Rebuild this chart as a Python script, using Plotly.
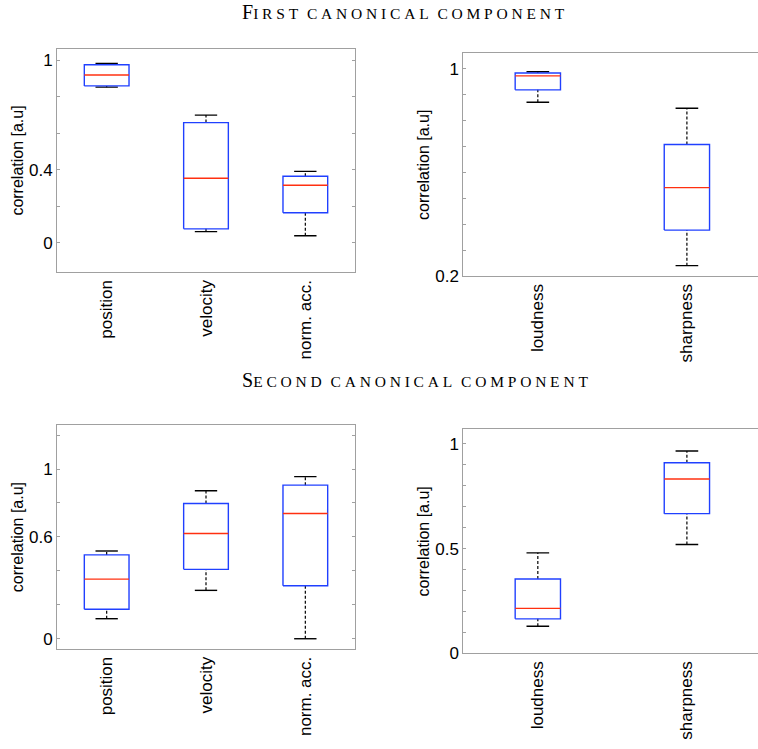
import plotly.graph_objects as go

# ---------------- data ----------------
motion_labels = ["position", "velocity", "norm. acc."]
sound_labels = ["loudness", "sharpness"]

# first canonical component
c1_motion_lo = [0.852, 0.061, 0.038]
c1_motion_q1 = [0.859, 0.076, 0.164]
c1_motion_med = [0.919, 0.353, 0.315]
c1_motion_q3 = [0.975, 0.658, 0.364]
c1_motion_hi = [0.982, 0.699, 0.391]

c1_sound_lo = [0.871, 0.241]
c1_sound_q1 = [0.919, 0.378]
c1_sound_med = [0.973, 0.542]
c1_sound_q3 = [0.984, 0.708]
c1_sound_hi = [0.989, 0.848]

# second canonical component
c2_motion_lo = [0.118, 0.285, 0.0]
c2_motion_q1 = [0.174, 0.409, 0.312]
c2_motion_med = [0.351, 0.620, 0.738]
c2_motion_q3 = [0.494, 0.797, 0.905]
c2_motion_hi = [0.517, 0.872, 0.955]

c2_sound_lo = [0.13, 0.52]
c2_sound_q1 = [0.165, 0.667]
c2_sound_med = [0.215, 0.832]
c2_sound_q3 = [0.355, 0.91]
c2_sound_hi = [0.48, 0.966]

W, H = 758, 749

fig = go.Figure()

BLUE = "#2040ff"
RED = "#ff3010"
FRAME = "#a0a0a0"


def add_boxes(xa, ya, lo, q1, med, q3, hi, halfw):
    capw = halfw / 2.0
    wx, wy, cx, cy, bx, by, mx, my = [], [], [], [], [], [], [], []
    for i in range(len(med)):
        c = i + 1
        wx += [c, c, None, c, c, None]
        wy += [q3[i], hi[i], None, lo[i], q1[i], None]
        cx += [c - capw, c + capw, None, c - capw, c + capw, None]
        cy += [hi[i], hi[i], None, lo[i], lo[i], None]
        bx += [c - halfw, c + halfw, c + halfw, c - halfw, c - halfw, None]
        by += [q1[i], q1[i], q3[i], q3[i], q1[i], None]
        mx += [c - halfw, c + halfw, None]
        my += [med[i], med[i], None]
    common = dict(xaxis=xa, yaxis=ya, mode="lines", hoverinfo="skip", showlegend=False)
    fig.add_trace(go.Scatter(x=wx, y=wy, line=dict(color="black", width=1.2, dash="3px,2px"), **common))
    fig.add_trace(go.Scatter(x=cx, y=cy, line=dict(color="black", width=1.4), **common))
    fig.add_trace(go.Scatter(x=bx, y=by, line=dict(color=BLUE, width=1.4), **common))
    fig.add_trace(go.Scatter(x=mx, y=my, line=dict(color=RED, width=1.4), **common))


add_boxes("x", "y", c1_motion_lo, c1_motion_q1, c1_motion_med, c1_motion_q3, c1_motion_hi, 0.225)
add_boxes("x2", "y2", c1_sound_lo, c1_sound_q1, c1_sound_med, c1_sound_q3, c1_sound_hi, 0.152)
add_boxes("x3", "y3", c2_motion_lo, c2_motion_q1, c2_motion_med, c2_motion_q3, c2_motion_hi, 0.225)
add_boxes("x4", "y4", c2_sound_lo, c2_sound_q1, c2_sound_med, c2_sound_q3, c2_sound_hi, 0.152)


def px_x(a, b):
    return [a / W, b / W]


def px_y(top, bottom):
    return [1 - bottom / H, 1 - top / H]


tickfont = dict(family="Liberation Sans, Arial, sans-serif", size=17, color="black")
titlefont = dict(family="Liberation Sans, Arial, sans-serif", size=16, color="black")


def xaxis_cfg(dom, rng, labels, anchor):
    return dict(domain=dom, range=rng, anchor=anchor, tickvals=list(range(1, len(labels) + 1)),
                ticktext=labels, tickangle=-90, ticks="", showline=True, linecolor=FRAME,
                linewidth=1, mirror=True, showgrid=False, zeroline=False, tickfont=tickfont)


def yaxis_cfg(dom, rng, vals, texts, anchor, mirror):
    return dict(domain=dom, range=rng, anchor=anchor, tickvals=vals, ticktext=texts,
                ticks="inside", ticklen=3, tickcolor=FRAME, showline=True, linecolor=FRAME,
                linewidth=1, mirror=mirror, showgrid=False, zeroline=False, tickfont=tickfont,
                title=dict(text="correlation [a.u]", font=titlefont, standoff=1))


y1_vals = [0, 0.2, 0.4, 0.6, 0.8, 1.0]
y1_text = ["0", "", "0.4", "", "", "1"]
y2_vals = [0.2, 0.3, 0.4, 0.5, 0.6, 0.7, 0.8, 0.9, 1.0]
y2_text = ["0.2", "", "", "", "", "", "", "", "1"]
y3_vals = [0, 0.2, 0.4, 0.6, 0.8, 1.0, 1.2]
y3_text = ["0", "", "", "0.6", "", "1", ""]
y4_vals = [0, 0.1, 0.2, 0.3, 0.4, 0.5, 0.6, 0.7, 0.8, 0.9, 1.0]
y4_text = ["0", "", "", "", "", "0.5", "", "", "", "", "1"]

fig.update_layout(
    width=W, height=H, margin=dict(l=0, r=0, t=0, b=0),
    paper_bgcolor="white", plot_bgcolor="white",
    xaxis=xaxis_cfg(px_x(57, 355), [0.5, 3.5], motion_labels, "y"),
    yaxis=yaxis_cfg(px_y(49.3, 276), [-0.162, 1.063], y1_vals, y1_text, "x", "ticks"),
    xaxis2=xaxis_cfg(px_x(463.3, 758), [0.5, 2.477], sound_labels, "y2"),
    yaxis2=yaxis_cfg(px_y(54, 280), [0.2, 1.06], y2_vals, y2_text, "x2", False),
    xaxis3=xaxis_cfg(px_x(57, 355), [0.5, 3.5], motion_labels, "y3"),
    yaxis3=yaxis_cfg(px_y(431, 657.7), [-0.06, 1.258], y3_vals, y3_text, "x3", "ticks"),
    xaxis4=xaxis_cfg(px_x(463.3, 758), [0.5, 2.477], sound_labels, "y4"),
    yaxis4=yaxis_cfg(px_y(435, 662.3), [0.0, 1.07], y4_vals, y4_text, "x4", False),
)

title_font = dict(family="Liberation Serif, Times New Roman, serif", size=20, color="black")
SC = "<span style='font-size:15.5px;letter-spacing:3.8px'>"


def small_caps(text):
    words = text.split(" ")
    out = []
    for k, wd in enumerate(words):
        if k == 0:
            out.append(wd[0].upper() + SC + wd[1:].upper() + "</span>")
        else:
            out.append(SC + wd.upper() + "</span>")
    return " ".join(out)


fig.add_annotation(text=small_caps("First canonical component"), xref="paper", yref="paper",
                   x=240 / W, y=1 - 12 / H, xanchor="left", yanchor="middle",
                   showarrow=False, font=title_font)
fig.add_annotation(text=small_caps("Second canonical component"), xref="paper", yref="paper",
                   x=240 / W, y=1 - 385 / H, xanchor="left", yanchor="middle",
                   showarrow=False, font=title_font)

fig.write_html(
    "out.html",
    post_script=("document.body.style.margin='0px';"
                 "document.body.style.overflow='hidden';"
                 "document.documentElement.style.overflow='hidden';"),
    config={"displayModeBar": False},
)
